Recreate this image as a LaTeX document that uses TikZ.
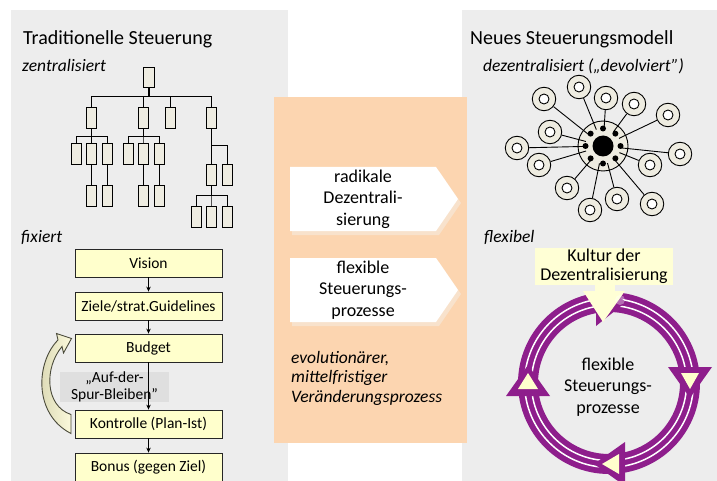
\documentclass[tikz,border=0pt]{standalone}
\usepackage{fontspec}
\setmainfont{Carlito}
\usetikzlibrary{arrows.meta,calc}
\definecolor{panelgrey}{HTML}{EDEDED}
\definecolor{orangebg}{HTML}{FCD5B0}
\definecolor{beige}{HTML}{EEECE1}
\definecolor{lyellow}{HTML}{FFFFCC}
\definecolor{kyellow}{HTML}{FFFFD5}
\definecolor{lblgrey}{HTML}{DFDFDF}
\definecolor{ringpurple}{HTML}{8E1E8C}
\definecolor{chevshadow}{HTML}{F8E2CC}
\definecolor{arrowdark}{HTML}{D6D3AE}
\definecolor{arrowlight}{HTML}{FBF9DC}
\definecolor{arrowline}{HTML}{4A4A3A}
\begin{document}
\begin{tikzpicture}[x=1pt,y=-1pt,
  heading/.style={font=\fontsize{20}{24}\selectfont, anchor=base west, inner sep=0},
  subhead/.style={font=\fontsize{17.5}{21}\selectfont\itshape, anchor=base west, inner sep=0},
  tbox/.style={draw=black, line width=0.8pt, fill=beige, minimum width=10pt, minimum height=21pt, inner sep=0},
  tline/.style={draw=black, line width=1pt},
  fbox/.style={draw=black!85, line width=0.8pt, fill=lyellow, minimum width=147pt, minimum height=28pt, inner sep=0, font=\fontsize{15.5}{18}\selectfont},
  farrow/.style={draw=black, line width=0.9pt, -{Stealth[length=5pt,width=4.5pt]}},
  chevtext/.style={align=center, font=\fontsize{18}{21.6}\selectfont, inner sep=0},
  ring/.style={circle, draw=black, line width=0.9pt, fill=beige, minimum size=23.5pt, inner sep=0},
  spoke/.style={draw=black, line width=0.9pt},
]
\useasboundingbox (0,0) rectangle (717,481);
\fill[white] (0,0) rectangle (717,481);
\fill[panelgrey] (11,10) rectangle (288,481);
\fill[panelgrey] (462,10) rectangle (717,481);
\fill[orangebg] (274,97) rectangle (467,443);

% headings
\node[heading] (h1) at (23,45) {Traditionelle Steuerung};
\node[subhead] (s1) at (22,72) {zentralisiert};
\node[subhead] (s2) at (21,242) {fixiert};
\node[heading] (h2) at (470,45) {Neues Steuerungsmodell};
\node[subhead] (s3) at (483,72) {dezentralisiert („devolviert”)};
\node[subhead] (s4) at (484,242) {flexibel};

% tree
\node[tbox, minimum width=11pt, minimum height=20pt] (root) at (148.5,77) {};
\node[tbox] (a) at (91.5,117.5) {};
\node[tbox] (b) at (143,117.5) {};
\node[tbox] (c) at (170,117.5) {};
\node[tbox] (d) at (211,117.5) {};
\node[tbox] (a1) at (76,154) {};
\node[tbox] (a2) at (91.5,154) {};
\node[tbox] (a3) at (107,154) {};
\node[tbox] (b1) at (128,154) {};
\node[tbox] (b2) at (143,154) {};
\node[tbox] (b3) at (159,154) {};
\node[tbox] (a2x) at (91.5,196) {};
\node[tbox] (a3x) at (107,196) {};
\node[tbox] (b2x) at (143,196) {};
\node[tbox] (b3x) at (159,196) {};
\node[tbox] (d1) at (211,174.5) {};
\node[tbox] (d2) at (227,174.5) {};
\node[tbox] (d1a) at (196,217) {};
\node[tbox] (d1b) at (211,217) {};
\node[tbox] (d1c) at (227,217) {};
\draw[line width=2pt] (root.south) -- ++(0,10);
\foreach \n in {a,b,c,d} \draw[tline] (\n.north) -- ++(0,-10) -| (root.south);
\foreach \n in {a1,a2,a3} \draw[tline] (\n.north) -- ++(0,-7) -| (a.south);
\foreach \n in {b1,b2,b3} \draw[tline] (\n.north) -- ++(0,-7) -| (b.south);
\draw[tline] (a2) -- (a2x);
\draw[tline] (a3) -- (a3x);
\draw[tline] (b2) -- (b2x);
\draw[tline] (b3) -- (b3x);
\draw[tline] (d) -- (d1);
\draw[tline] (d2.north) -- ++(0,-18) -| (d.south);
\foreach \n in {d1a,d1b,d1c} \draw[tline] (\n.north) -- ++(0,-11) -| (d1.south);

% flowchart
\node[fbox] (vision) at (148.5,263) {Vision};
\node[fbox] (ziele) at (148.5,306) {Ziele/strat.Guidelines};
\node[fbox] (budget) at (148.5,348) {Budget};
\node[fbox] (kontrolle) at (148.5,424) {Kontrolle (Plan-Ist)};
\node[fbox] (bonus) at (148.5,467) {Bonus (gegen Ziel)};
\node[fill=lblgrey, minimum width=109pt, minimum height=30pt, inner sep=0, align=center, font=\fontsize{15.5}{16.5}\selectfont] (lbl) at (114.5,387) {„Auf-der-\\Spur-Bleiben”};
\draw[farrow] (vision) -- (ziele);
\draw[farrow] (ziele) -- (budget);
\draw[farrow] (budget) -- (kontrolle);
\draw[farrow] (kontrolle) -- (bonus);
\draw[left color=arrowdark, right color=arrowlight, draw=arrowline, line width=0.9pt, line join=miter]
  (58,340) .. controls (36,362) and (33,414) .. (71,433.5)
  -- (71,414.5)
  .. controls (45,406) and (44,368) .. (62,346.5)
  -- (63.5,353) -- (71.5,338.5) -- (56.5,333.5) -- cycle;

% chevrons
\fill[chevshadow] (292,171) -- (439,171) -- (461,203) -- (439,235) -- (292,235) -- cycle;
\fill[white] (290,167) -- (436,167) -- (458,199) -- (436,231) -- (290,231) -- cycle;
\node[chevtext] (c1) at (363,199) {radikale\\Dezentrali-\\sierung};
\fill[chevshadow] (292,262) -- (439,262) -- (461,294) -- (439,326) -- (292,326) -- cycle;
\fill[white] (290,258) -- (436,258) -- (458,290) -- (436,322) -- (290,322) -- cycle;
\node[chevtext] (c2) at (363,290) {flexible\\Steuerungs-\\prozesse};
\node[anchor=north west, align=left, font=\fontsize{17.5}{19.5}\selectfont\itshape, inner sep=0] (evo) at (291,351) {evolutionärer,\\mittelfristiger\\Veränderungsprozess};

% radial
\node[circle, draw=black, line width=0.9pt, fill=beige, minimum size=50pt, inner sep=0] (hubbg) at (603,146) {};
\node[circle, minimum size=35pt, inner sep=0] (hub) at (603,146) {};
\foreach \i/\x/\y in {1/579/87, 2/544/99, 3/606/98, 4/634/104, 5/668/115, 6/550/132, 7/517/148, 8/539/165, 9/680/154, 10/650/165, 11/567/188, 12/617/199, 13/652/204, 14/590/210} {
  \node[ring] (r\i) at (\x,\y) {};
  \draw[line width=0.9pt, fill=white] (r\i.center) circle (5);
  \draw[spoke] (r\i) -- (hub);
}
\fill[black] (hub.center) circle (10.5);
\foreach \a in {0,45,...,315} \fill[black] ($(hub.center)+(\a:17.5)$) circle (3);

% culture box and ring
\draw[ringpurple, line width=20pt] (609,383) circle (81);
\draw[white, line width=1.5pt] (609,383) circle (77.6);
\draw[white, line width=1.5pt] (609,383) circle (84.4);
\fill[ringpurple] (668,367) -- (712,367) -- (690,398) -- cycle;
\fill[lyellow] (681,373) -- (699,373) -- (690,389) -- cycle;
\fill[ringpurple] (506,396) -- (550,396) -- (528,365) -- cycle;
\fill[lyellow] (518,389) -- (538,389) -- (528,373) -- cycle;
\fill[ringpurple] (625,442) -- (625,486) -- (594,464) -- cycle;
\fill[lyellow] (619,454) -- (619,474) -- (602,464) -- cycle;
\fill[ringpurple] (596,280) -- (596,326) -- (626,302) -- cycle;
\node[fill=kyellow, minimum width=138pt, minimum height=37pt, inner sep=0, align=center, font=\fontsize{18}{19}\selectfont] (kultur) at (604,266.5) {Kultur der\\Dezentralisierung};
\fill[kyellow] (595,284) rectangle (615,292);
\fill[kyellow] (583,291) -- (625,291) -- (603,322) -- cycle;
\fill[white, opacity=0.35] (620,300) circle (5);
\node[chevtext] (ctr) at (608,387) {flexible\\Steuerungs-\\prozesse};
\end{tikzpicture}
\end{document}
